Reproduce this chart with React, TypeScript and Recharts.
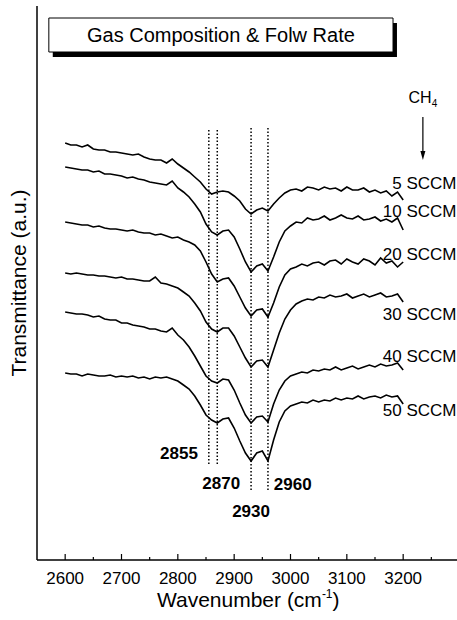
import { LineChart, Line, XAxis, YAxis, ReferenceLine, ReferenceDot, ReferenceArea } from "recharts";

// wavenumber grid (cm-1)
const wavenumbers = [
  2600, 2610, 2620, 2630, 2640, 2650, 2660, 2670, 2680, 2690,
  2700, 2710, 2720, 2730, 2740, 2750, 2760, 2770, 2780, 2790,
  2800, 2810, 2820, 2830, 2840, 2850, 2860, 2870, 2880, 2890,
  2900, 2910, 2920, 2930, 2940, 2950, 2960, 2970, 2980, 2990,
  3000, 3010, 3020, 3030, 3040, 3050, 3060, 3070, 3080, 3090,
  3100, 3110, 3120, 3130, 3140, 3150, 3160, 3170, 3180, 3190,
  3200,
];

// transmittance (a.u., stacked) for each CH4 flow
const s5 = [
  4.17, 4.15, 4.15, 4.13, 4.15, 4.11, 4.10, 4.10, 4.08, 4.08,
  4.07, 4.06, 4.05, 4.06, 4.03, 4.01, 4.00, 4.00, 3.97, 4.01,
  3.96, 3.92, 3.88, 3.83, 3.78, 3.71, 3.66, 3.68, 3.69, 3.68,
  3.64, 3.59, 3.51, 3.46, 3.50, 3.52, 3.49, 3.56, 3.62, 3.67,
  3.70, 3.71, 3.69, 3.73, 3.72, 3.70, 3.73, 3.71, 3.72, 3.69,
  3.73, 3.70, 3.70, 3.72, 3.68, 3.70, 3.67, 3.69, 3.64, 3.68,
  3.60,
];
const s10 = [
  3.93, 3.92, 3.91, 3.90, 3.90, 3.88, 3.89, 3.86, 3.86, 3.85,
  3.84, 3.82, 3.83, 3.81, 3.80, 3.78, 3.77, 3.76, 3.75, 3.79,
  3.72, 3.68, 3.63, 3.56, 3.48, 3.36, 3.28, 3.25, 3.29, 3.30,
  3.23, 3.11, 2.98, 2.88, 2.94, 2.96, 2.89, 3.03, 3.18, 3.29,
  3.34, 3.38, 3.37, 3.42, 3.40, 3.41, 3.44, 3.40, 3.42, 3.45,
  3.42, 3.41, 3.44, 3.40, 3.41, 3.43, 3.39, 3.41, 3.38, 3.42,
  3.30,
];
const s20 = [
  3.38, 3.37, 3.36, 3.35, 3.35, 3.33, 3.34, 3.32, 3.31, 3.31,
  3.30, 3.29, 3.30, 3.28, 3.27, 3.27, 3.25, 3.26, 3.24, 3.22,
  3.23, 3.20, 3.18, 3.15, 3.09, 2.98, 2.86, 2.78, 2.81, 2.82,
  2.74, 2.63, 2.52, 2.44, 2.50, 2.51, 2.43, 2.57, 2.73, 2.85,
  2.91, 2.93, 2.96, 2.94, 2.97, 2.98, 2.95, 2.99, 3.00, 2.96,
  3.01, 2.98, 2.96, 3.01, 2.99, 2.95, 3.02, 2.97, 2.99, 2.93,
  2.98,
];
const s30 = [
  2.87, 2.86, 2.87, 2.86, 2.85, 2.85, 2.84, 2.84, 2.83, 2.82,
  2.83, 2.81, 2.81, 2.80, 2.79, 2.79, 2.83, 2.77, 2.76, 2.74,
  2.72, 2.68, 2.64, 2.57, 2.49, 2.38, 2.31, 2.28, 2.32, 2.32,
  2.24, 2.13, 2.02, 1.93, 1.99, 2.00, 1.93, 2.10, 2.27, 2.41,
  2.50, 2.56, 2.59, 2.61, 2.60, 2.63, 2.62, 2.65, 2.63, 2.64,
  2.66, 2.62, 2.64, 2.66, 2.63, 2.65, 2.67, 2.63, 2.64, 2.66,
  2.58,
];
const s40 = [
  2.48, 2.47, 2.46, 2.46, 2.45, 2.43, 2.44, 2.41, 2.40, 2.40,
  2.37, 2.37, 2.35, 2.34, 2.33, 2.31, 2.31, 2.29, 2.28, 2.32,
  2.25, 2.20, 2.13, 2.04, 1.94, 1.84, 1.79, 1.77, 1.81, 1.80,
  1.70, 1.57, 1.45, 1.37, 1.43, 1.44, 1.38, 1.56, 1.70, 1.79,
  1.84, 1.86, 1.88, 1.87, 1.90, 1.89, 1.91, 1.90, 1.93, 1.90,
  1.92, 1.94, 1.91, 1.93, 1.95, 1.93, 1.96, 1.94, 1.95, 1.97,
  1.90,
];
const s50 = [
  1.87, 1.86, 1.86, 1.84, 1.86, 1.85, 1.84, 1.84, 1.85, 1.83,
  1.84, 1.83, 1.84, 1.82, 1.83, 1.81, 1.83, 1.82, 1.83, 1.81,
  1.79, 1.75, 1.71, 1.64, 1.55, 1.45, 1.40, 1.37, 1.41, 1.42,
  1.32, 1.19, 1.07, 0.99, 1.07, 1.09, 0.99, 1.20, 1.38, 1.49,
  1.54, 1.56, 1.58, 1.57, 1.60, 1.58, 1.60, 1.59, 1.62, 1.60,
  1.62, 1.61, 1.64, 1.61, 1.63, 1.64, 1.62, 1.65, 1.63, 1.64,
  1.56,
];

const seriesKeys = ["s5", "s10", "s20", "s30", "s40", "s50"];
const flowLabels = ["5 SCCM", "10 SCCM", "20 SCCM", "30 SCCM", "40 SCCM", "50 SCCM"];
const flowLabelY = [3.77, 3.49, 3.06, 2.46, 2.04, 1.50];

// marked peaks: line position, top/bottom of the dotted line
const peaks = [2855, 2870, 2930, 2960];
const peakTop = [4.30, 4.30, 4.32, 4.32];
const peakBottom = [0.94, 0.94, 0.70, 0.70];
// where each peak number is written
const peakLabelX = [2802, 2877, 2930, 3004];
const peakLabelY = [1.07, 0.77, 0.49, 0.76];

const majorTicks = [2600, 2700, 2800, 2900, 3000, 3100, 3200];
const minorTicks = [2650, 2750, 2850, 2950, 3050, 3150, 3250];

const data = wavenumbers.map((w, i) => ({
  w,
  s5: s5[i],
  s10: s10[i],
  s20: s20[i],
  s30: s30[i],
  s40: s40[i],
  s50: s50[i],
}));

const XTitle = (props: any) => {
  const { viewBox } = props;
  return (
    <text x={viewBox.x + viewBox.width / 2} y={viewBox.y + 47} textAnchor="middle" fontSize={21} fill="#000">
      Wavenumber (cm<tspan fontSize={12} dy={-9}>-1</tspan>
      <tspan dy={9}>)</tspan>
    </text>
  );
};

const ChLabel = (props: any) => {
  const { viewBox } = props;
  const cx = viewBox.x + viewBox.width / 2;
  const cy = viewBox.y + viewBox.height / 2;
  return (
    <text x={cx} y={cy + 6} textAnchor="middle" fontSize={16} fill="#000">
      CH<tspan fontSize={10} dy={4}>4</tspan>
    </text>
  );
};

const ArrowHead = (props: any) => {
  const { cx, cy } = props;
  return <polygon points={`${cx - 2.5},${cy - 9} ${cx + 2.5},${cy - 9} ${cx},${cy}`} fill="#000" />;
};

export default function App() {
  return (
    <div
      style={{
        position: "fixed",
        top: 0,
        left: 0,
        width: 457,
        height: 620,
        overflow: "hidden",
        background: "#fff",
        fontFamily: "'Liberation Sans', Arial, sans-serif",
      }}
    >
      <LineChart width={480} height={620} data={data} margin={{ top: 6, right: 20.5, bottom: 0, left: 0 }}>
        <XAxis
          dataKey="w"
          type="number"
          domain={[2550, 3300]}
          ticks={majorTicks}
          tickLine={false}
          tickMargin={6}
          axisLine={{ stroke: "#000", strokeWidth: 1.5 }}
          tick={{ fill: "#000", fontSize: 17 }}
          height={60}
          label={<XTitle />}
        />
        <XAxis
          xAxisId="top"
          orientation="top"
          dataKey="w"
          type="number"
          domain={[2550, 3300]}
          tick={false}
          tickLine={false}
          height={0}
          axisLine={{ stroke: "#000", strokeWidth: 1.2 }}
        />
        <YAxis
          type="number"
          domain={[0, 5.54]}
          tick={false}
          tickLine={false}
          width={37}
          axisLine={{ stroke: "#000", strokeWidth: 1.5 }}
          label={{ value: "Transmittance (a.u.)", angle: -90, position: "center", fontSize: 21, fill: "#000" }}
        />

        {majorTicks.map((t) => (
          <ReferenceLine key={"M" + t} segment={[{ x: t, y: 0 }, { x: t, y: 0.06 }]} stroke="#000" strokeWidth={1.2} />
        ))}
        {minorTicks.map((t) => (
          <ReferenceLine key={"m" + t} segment={[{ x: t, y: 0 }, { x: t, y: 0.03 }]} stroke="#000" strokeWidth={1.2} />
        ))}

        {/* title box with drop shadow */}
        <ReferenceArea x1={2578} x2={3189} y1={5.03} y2={5.37} fill="#000" fillOpacity={1} stroke="none" />
        <ReferenceArea
          x1={2571}
          x2={3182}
          y1={5.08}
          y2={5.42}
          fill="#fff"
          fillOpacity={1}
          stroke="#000"
          strokeWidth={1}
          label={{ value: "Gas Composition & Folw Rate", position: "center", fontSize: 20, fill: "#000" }}
        />

        {peaks.map((p, i) => (
          <ReferenceLine
            key={"p" + p}
            segment={[{ x: p, y: peakTop[i] }, { x: p, y: peakBottom[i] }]}
            stroke="#000"
            strokeWidth={1.5}
            strokeDasharray="1.5 2"
          />
        ))}
        {peaks.map((p, i) => (
          <ReferenceDot
            key={"pl" + p}
            x={peakLabelX[i]}
            y={peakLabelY[i]}
            r={0}
            fill="none"
            stroke="none"
            label={{ value: String(p), position: "center", fontSize: 17, fontWeight: "bold", fill: "#000" }}
          />
        ))}

        {seriesKeys.map((k) => (
          <Line
            key={k}
            dataKey={k}
            type="linear"
            stroke="#000"
            strokeWidth={1.6}
            dot={false}
            isAnimationActive={false}
          />
        ))}

        {flowLabels.map((f, i) => (
          <ReferenceDot
            key={f}
            x={3300}
            y={flowLabelY[i]}
            r={0}
            fill="none"
            stroke="none"
            label={{ value: f, position: "left", offset: 3, fontSize: 17, fill: "#000" }}
          />
        ))}

        {/* CH4 arrow */}
        <ReferenceDot x={3235} y={4.63} r={0} fill="none" stroke="none" label={<ChLabel />} />
        <ReferenceLine segment={[{ x: 3235, y: 4.43 }, { x: 3235, y: 4.06 }]} stroke="#000" strokeWidth={1.2} />
        <ReferenceDot x={3235} y={4.0} shape={<ArrowHead />} />
      </LineChart>
    </div>
  );
}
